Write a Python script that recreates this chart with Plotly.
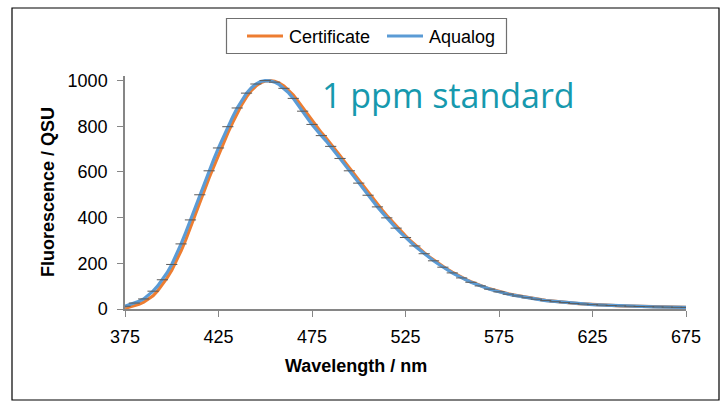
import plotly.graph_objects as go

wavelength = [375 + 2.5 * i for i in range(121)]

certificate = [
    3, 8, 14, 21, 30, 42, 58, 80, 106, 136,
    170, 210, 255, 304, 356, 410, 465, 520, 575, 626,
    676, 724, 771, 815, 858, 896, 929, 956, 976, 991,
    998, 1000, 997, 989, 976, 958, 936, 910, 882, 853,
    824, 795, 772, 748, 724, 698, 671, 644, 617, 590,
    563, 536, 509, 483, 458, 433, 409, 386, 363, 341,
    320, 300, 281, 263, 246, 230, 215, 200, 186, 173,
    161, 149, 138, 128, 119, 110, 102, 95, 88, 82,
    76, 71, 66, 62, 58, 54, 50, 47, 44, 41,
    38, 35.5, 33, 30.5, 28.5, 26.5, 25, 23.5, 22, 20.5,
    19.5, 18.5, 17.5, 16.5, 15.5, 14.6, 13.8, 13.1, 12.5, 11.9,
    11.3, 10.7, 10.2, 9.7, 9.2, 8.8, 8.4, 8, 7.6, 7.3, 7,
]

aqualog = [
    12, 19, 26, 34, 44, 59, 78, 101, 128, 159,
    195, 238, 285, 336, 390, 445, 500, 553, 605, 656,
    705, 752, 798, 840, 880, 915, 945, 968, 985, 996,
    1000, 999, 993, 982, 966, 946, 922, 895, 866, 836,
    808, 782, 759, 736, 712, 686, 659, 632, 605, 578,
    551, 524, 498, 472, 447, 423, 399, 376, 354, 333,
    313, 294, 276, 259, 242, 226, 211, 197, 183, 170,
    158, 147, 136, 126, 117, 109, 101, 94, 87, 81,
    75, 70, 65, 61, 57, 53, 49, 46, 43, 40,
    37, 35, 32, 30, 28, 26, 24.5, 23, 21.5, 20,
    19, 18, 17, 16, 15, 14.2, 13.5, 12.8, 12.2, 11.6,
    11, 10.5, 10, 9.5, 9, 8.6, 8.2, 7.8, 7.5, 7.2, 7,
]

x_ticks = [375, 425, 475, 525, 575, 625, 675]
y_ticks = [0, 200, 400, 600, 800, 1000]
series_names = ["Certificate", "Aqualog"]
series_colors = ["#ED7D31", "#5B9BD5"]

FONT = "Liberation Sans Narrow, Arial Narrow, Liberation Sans, Arial"
AX = "#868686"


def px(x):
    return (x - 125) / 561


def py(y):
    return (309 - y) / 233


fig = go.Figure()
fig.add_trace(go.Scatter(x=wavelength, y=certificate, mode="lines", name=series_names[0],
                         line=dict(color=series_colors[0], width=3.2), showlegend=False))
fig.add_trace(go.Scatter(x=wavelength, y=aqualog, mode="lines", name=series_names[1],
                         line=dict(color=series_colors[1], width=3.2), showlegend=False))
fig.add_trace(go.Scatter(x=wavelength[::2], y=aqualog[::2], mode="markers", showlegend=False,
                         marker=dict(symbol="line-ew", size=8, color="#5a5a5a",
                                     line=dict(color="#5a5a5a", width=1))))

fig.update_layout(
    width=722, height=404,
    margin=dict(l=125, r=36, t=76, b=95),
    paper_bgcolor="white", plot_bgcolor="white",
    font=dict(family=FONT, size=18, color="black"),
    showlegend=False,
    xaxis=dict(range=[375, 675], tickvals=x_ticks, ticktext=[str(v) for v in x_ticks],
               showgrid=False, zeroline=False, showline=True, linecolor=AX, linewidth=1.5,
               ticks="outside", ticklen=6, tickcolor=AX, tickwidth=1.2,
               ticklabelstandoff=5,
               tickfont=dict(family=FONT, size=18)),
    yaxis=dict(range=[0, 1020], tickvals=y_ticks, ticktext=[str(v) for v in y_ticks],
               showgrid=False, zeroline=False, showline=True, linecolor=AX, linewidth=1.5,
               ticks="outside", ticklen=6, tickcolor=AX, tickwidth=1.2,
               ticklabelstandoff=6,
               tickfont=dict(family=FONT, size=18)),
)

# outer chart border
fig.add_shape(type="rect", xref="paper", yref="paper",
              x0=px(12), x1=px(719), y0=py(400), y1=py(8),
              line=dict(color="black", width=1.2), fillcolor="rgba(0,0,0,0)", layer="below")

# legend box (drawn manually to match layout)
fig.add_shape(type="rect", xref="paper", yref="paper",
              x0=px(226.5), x1=px(506.5), y0=py(53.5), y1=py(18.5),
              line=dict(color="#707070", width=1.2), fillcolor="white", layer="above")
legend_items = [(247, 283, 287), (387, 423, 427)]
for (l0, l1, tx), name, col in zip(legend_items, series_names, series_colors):
    fig.add_shape(type="line", xref="paper", yref="paper",
                  x0=px(l0), x1=px(l1), y0=py(36), y1=py(36),
                  line=dict(color=col, width=3))
    fig.add_annotation(text=name, xref="paper", yref="paper", x=px(tx), y=py(36.5),
                       showarrow=False, xanchor="left", yanchor="middle",
                       font=dict(family=FONT, size=18, color="black"))

# axis titles
fig.add_annotation(text="<b>Wavelength / nm</b>", xref="paper", yref="paper",
                   x=px(356), y=py(366), showarrow=False,
                   xanchor="center", yanchor="middle", font=dict(family=FONT, size=18))
fig.add_annotation(text="<b>Fluorescence / QSU</b>", xref="paper", yref="paper",
                   x=px(47.5), y=0.5, showarrow=False, textangle=-90,
                   xanchor="center", yanchor="middle", font=dict(family=FONT, size=18))

fig.add_annotation(text="1 ppm standard", xref="paper", yref="paper",
                   x=px(320), y=py(95), showarrow=False,
                   xanchor="left", yanchor="middle",
                   font=dict(family="Open Sans, Noto Sans", size=34, color="#1699AE"))

fig.write_html("out.html")
